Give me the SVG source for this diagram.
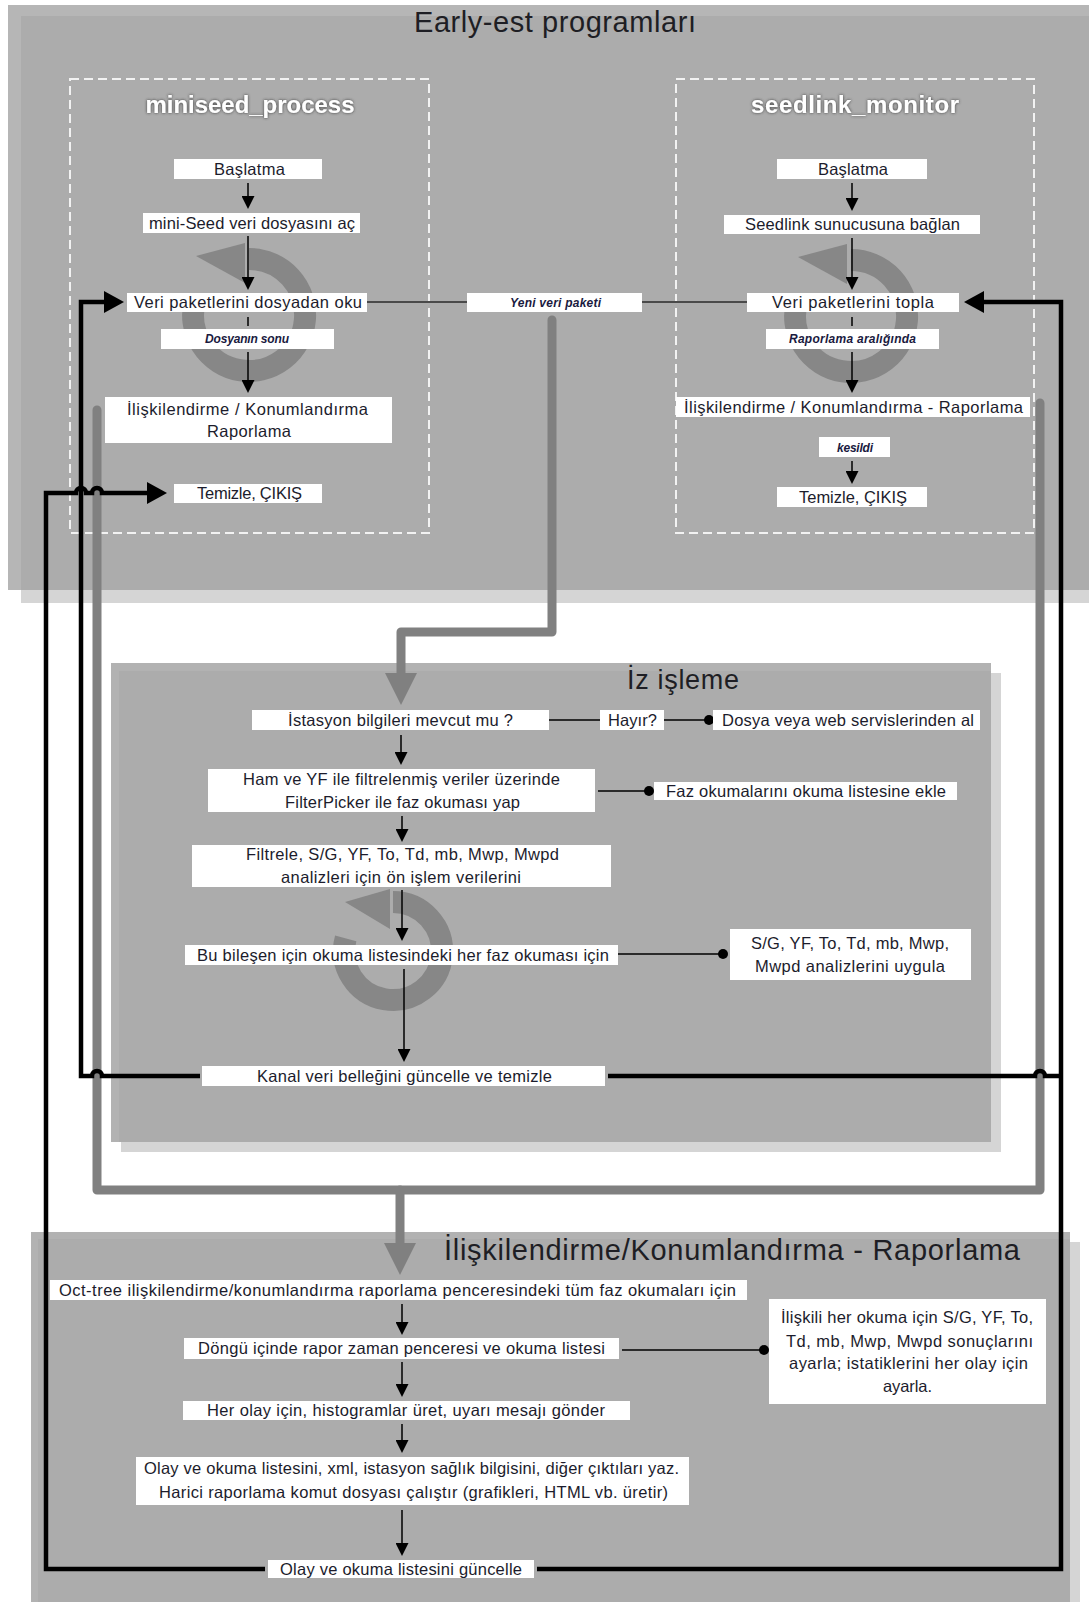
<svg xmlns="http://www.w3.org/2000/svg" width="1092" height="1602" viewBox="0 0 1092 1602">
<style>
.t{font-family:"Liberation Sans",Arial,sans-serif;font-size:16.5px;fill:#1c1c2c;text-anchor:middle}
.s{font-size:12px;font-weight:bold;font-style:italic;fill:#1a1a40}
.ttl{font-family:"Liberation Sans",Arial,sans-serif;fill:#1e1e24;text-anchor:middle}
.sub{font-family:"Liberation Sans",Arial,sans-serif;font-size:24px;font-weight:bold;fill:#ffffff;text-anchor:middle}
.n{fill:#ffffff}
.thin{stroke:#000;stroke-width:1.5;fill:none}
.thick{stroke:#000;stroke-width:4.5;fill:none}
.gray{stroke:#808080;stroke-width:9;fill:none;stroke-linecap:round;stroke-linejoin:round}
.link{stroke:#4a4a4a;stroke-width:2;fill:none}
.dash{stroke:#f2f2f2;stroke-width:2;fill:none;stroke-dasharray:9 5}
.ring{fill:none;stroke:#808080;stroke-width:22;opacity:0.85}
.rhead{fill:#808080;opacity:0.85}
</style>
<defs>
<marker id="ah" viewBox="0 0 10 10" refX="0" refY="5" markerWidth="13" markerHeight="13" markerUnits="userSpaceOnUse" orient="auto" preserveAspectRatio="none"><path d="M0,0L10,5L0,10z" fill="#000"/></marker>
<marker id="ahb" viewBox="0 0 10 10" refX="0" refY="5" markerWidth="20" markerHeight="22" markerUnits="userSpaceOnUse" orient="auto" preserveAspectRatio="none"><path d="M0,0L10,5L0,10z" fill="#000"/></marker>
<marker id="ahg" viewBox="0 0 10 10" refX="0" refY="5" markerWidth="32" markerHeight="32" markerUnits="userSpaceOnUse" orient="auto" preserveAspectRatio="none"><path d="M0,0L10,5L0,10z" fill="#808080"/></marker>
<filter id="glow" x="-10%" y="-40%" width="120%" height="180%"><feGaussianBlur in="SourceAlpha" stdDeviation="1.6" result="b"/><feFlood flood-color="#333333"/><feComposite in2="b" operator="in"/><feMerge><feMergeNode/><feMergeNode in="SourceGraphic"/></feMerge></filter>
</defs>

<!-- panels -->
<g id="panel-top">
<rect x="8" y="5" width="1081" height="585" fill="#b6b6b6"/>
<rect x="21" y="16" width="1068" height="574" fill="#acacac"/>
<rect x="21" y="590" width="1068" height="13" fill="#d5d5d5"/>
<text class="ttl" x="555" y="32" font-size="29" textLength="282">Early-est programları</text>
</g>
<g id="panel-iz">
<rect x="121" y="673" width="880" height="479" fill="#d5d5d5"/>
<rect x="111" y="663" width="880" height="479" fill="#b2b2b2"/>
<rect x="119" y="671" width="872" height="471" fill="#acacac"/>
<text class="ttl" x="683" y="689" font-size="27" textLength="112">İz işleme</text>
</g>
<g id="panel-bottom">
<rect x="41" y="1242" width="1039" height="360" fill="#d5d5d5"/>
<rect x="31" y="1232" width="1039" height="370" fill="#b2b2b2"/>
<rect x="38" y="1239" width="1032" height="363" fill="#acacac"/>
<text class="ttl" x="732" y="1260" font-size="29" textLength="576">İlişkilendirme/Konumlandırma - Raporlama</text>
</g>

<g id="group-miniseed">
<rect class="dash" x="70" y="79" width="359" height="454"/>
<text class="sub" x="250" y="113" textLength="209" filter="url(#glow)">miniseed_process</text>
</g>
<g id="group-seedlink">
<rect class="dash" x="676" y="79" width="358" height="454"/>
<text class="sub" x="855" y="113" textLength="208" filter="url(#glow)">seedlink_monitor</text>
</g>

<!-- loop symbols -->
<g id="loops">
<path class="ring" d="M249,259 A56,56 0 1 1 195,300.5"/>
<polygon class="rhead" points="245,243 245,283 196,256"/>
<path class="ring" d="M851,260 A56,56 0 1 1 797,301.5"/>
<polygon class="rhead" points="847,244 847,284 798,257"/>
<path class="ring" d="M393,902 A49,49 0 1 1 345.7,938.3"/>
<polygon class="rhead" points="390,889 390,929 345,902"/>
</g>

<!-- connectors -->
<g id="connectors">
<path class="link" d="M358,302 H467"/>
<path class="link" d="M642,302 H747"/>
<path class="gray" d="M552,320 V632 H401 V673" marker-end="url(#ahg)"/>
<path class="gray" d="M97,410 V1190 H1040 V403"/>
<path class="gray" d="M400,1190 V1243" marker-end="url(#ahg)"/>

<path class="thick" d="M200,1076 H102 a5,5 0 0 0 -10,0 H81 V302 H104" marker-end="url(#ahb)"/>
<path class="thick" d="M265,1569 H46 V493 H76 a5,5 0 0 1 10,0 H92 a5,5 0 0 1 10,0 H147" marker-end="url(#ahb)"/>
<path class="thick" d="M608,1076 H1035 a5,5 0 0 1 10,0 H1061"/>
<path class="thick" d="M537,1569 H1061 V302 H984" marker-end="url(#ahb)"/>

<path class="thin" d="M248,183 V196" marker-end="url(#ah)"/>
<path class="thin" d="M248,236 V277" marker-end="url(#ah)"/>
<path class="thin" d="M248,317 V326"/>
<path class="thin" d="M248,352 V380" marker-end="url(#ah)"/>
<path class="thin" d="M852,183 V198" marker-end="url(#ah)"/>
<path class="thin" d="M852,238 V277" marker-end="url(#ah)"/>
<path class="thin" d="M852,317 V326"/>
<path class="thin" d="M852,352 V380" marker-end="url(#ah)"/>
<path class="thin" d="M852,461 V471" marker-end="url(#ah)"/>

<path class="thin" d="M401,735 V752" marker-end="url(#ah)"/>
<path class="thin" d="M402,816 V829" marker-end="url(#ah)"/>
<path class="thin" d="M402,890 V928" marker-end="url(#ah)"/>
<path class="thin" d="M404,969 V1049" marker-end="url(#ah)"/>
<path class="thin" d="M549,720 H600"/>
<path class="thin" d="M664,720 H709"/>
<circle cx="709" cy="720" r="5"/>
<path class="thin" d="M598,791 H649"/>
<circle cx="649" cy="791" r="5"/>
<path class="thin" d="M618,954 H723"/>
<circle cx="723" cy="954" r="5"/>

<path class="thin" d="M402,1304 V1322" marker-end="url(#ah)"/>
<path class="thin" d="M402,1362 V1384" marker-end="url(#ah)"/>
<path class="thin" d="M402,1424 V1440" marker-end="url(#ah)"/>
<path class="thin" d="M402,1510 V1543" marker-end="url(#ah)"/>
<path class="thin" d="M622,1350 H764"/>
<circle cx="764" cy="1350" r="5"/>
</g>

<!-- miniseed_process nodes -->
<g id="n-ms-baslatma"><rect class="n" x="174" y="159" width="148" height="20"/><text class="t" x="249.5" y="175" textLength="71">Başlatma</text></g>
<g id="n-ms-ac"><rect class="n" x="143" y="213" width="217" height="20"/><text class="t" x="252" y="228.5" textLength="206">mini-Seed veri dosyasını aç</text></g>
<g id="n-ms-oku"><rect class="n" x="127" y="293" width="240" height="19"/><text class="t" x="248" y="308" textLength="228">Veri paketlerini dosyadan oku</text></g>
<g id="n-ms-sonu"><rect class="n" x="161" y="329" width="173" height="20"/><text class="t s" x="247" y="343" textLength="84">Dosyanın sonu</text></g>
<g id="n-ms-iliskilendirme"><rect class="n" x="105" y="397" width="287" height="46"/><text class="t" x="247.5" y="415" textLength="241">İlişkilendirme / Konumlandırma</text><text class="t" x="249" y="437" textLength="84">Raporlama</text></g>
<g id="n-ms-temizle"><rect class="n" x="174" y="484" width="148" height="19"/><text class="t" x="249.5" y="499" textLength="105">Temizle, ÇIKIŞ</text></g>

<g id="n-yeni"><rect class="n" x="467" y="293" width="175" height="19"/><text class="t s" x="555.5" y="307" textLength="91">Yeni veri paketi</text></g>

<!-- seedlink_monitor nodes -->
<g id="n-sl-baslatma"><rect class="n" x="777" y="159" width="150" height="20"/><text class="t" x="853" y="175" textLength="70">Başlatma</text></g>
<g id="n-sl-baglan"><rect class="n" x="724" y="215" width="256" height="19"/><text class="t" x="852.5" y="230" textLength="215">Seedlink sunucusuna bağlan</text></g>
<g id="n-sl-topla"><rect class="n" x="747" y="293" width="212" height="19"/><text class="t" x="853" y="308" textLength="162">Veri paketlerini topla</text></g>
<g id="n-sl-araliginda"><rect class="n" x="766" y="329" width="173" height="20"/><text class="t s" x="852.5" y="343" textLength="127">Raporlama aralığında</text></g>
<g id="n-sl-iliskilendirme"><rect class="n" x="676" y="397" width="354" height="20"/><text class="t" x="853.5" y="412.5" textLength="339">İlişkilendirme / Konumlandırma - Raporlama</text></g>
<g id="n-sl-kesildi"><rect class="n" x="819" y="437" width="71" height="20"/><text class="t s" x="855" y="451.5" textLength="36">kesildi</text></g>
<g id="n-sl-temizle"><rect class="n" x="777" y="487" width="150" height="20"/><text class="t" x="853" y="502.5" textLength="108">Temizle, ÇIKIŞ</text></g>

<!-- İz işleme nodes -->
<g id="n-istasyon"><rect class="n" x="252" y="710" width="297" height="20"/><text class="t" x="400.5" y="726" textLength="225">İstasyon bilgileri mevcut mu ?</text></g>
<g id="n-hayir"><rect class="n" x="600" y="710" width="64" height="20"/><text class="t" x="632.5" y="726" textLength="49">Hayır?</text></g>
<g id="n-dosya"><rect class="n" x="713" y="710" width="267" height="20"/><text class="t" x="848" y="726" textLength="252">Dosya veya web servislerinden al</text></g>
<g id="n-ham"><rect class="n" x="208" y="769" width="387" height="43"/><text class="t" x="401.5" y="785" textLength="317">Ham ve YF ile filtrelenmiş veriler üzerinde</text><text class="t" x="402.5" y="808" textLength="235">FilterPicker ile faz okuması yap</text></g>
<g id="n-faz"><rect class="n" x="654" y="782" width="303" height="18"/><text class="t" x="806" y="796.5" textLength="280">Faz okumalarını okuma listesine ekle</text></g>
<g id="n-filtrele"><rect class="n" x="192" y="845" width="419" height="42"/><text class="t" x="402.5" y="860" textLength="313">Filtrele, S/G, YF, To, Td, mb, Mwp, Mwpd</text><text class="t" x="401" y="883" textLength="240">analizleri için ön işlem verilerini</text></g>
<g id="n-bilesen"><rect class="n" x="185" y="945" width="433" height="20"/><text class="t" x="403" y="960.5" textLength="412">Bu bileşen için okuma listesindeki her faz okuması için</text></g>
<g id="n-analiz"><rect class="n" x="730" y="929" width="241" height="51"/><text class="t" x="850" y="949" textLength="198">S/G, YF, To, Td, mb, Mwp,</text><text class="t" x="850" y="972" textLength="190">Mwpd analizlerini uygula</text></g>
<g id="n-kanal"><rect class="n" x="202" y="1066" width="403" height="20"/><text class="t" x="404.5" y="1081.5" textLength="295">Kanal veri belleğini güncelle ve temizle</text></g>

<!-- İlişkilendirme/Konumlandırma - Raporlama nodes -->
<g id="n-octree"><rect class="n" x="50" y="1280" width="697" height="20"/><text class="t" x="397.5" y="1295.5" textLength="677">Oct-tree ilişkilendirme/konumlandırma raporlama penceresindeki tüm faz okumaları için</text></g>
<g id="n-dongu"><rect class="n" x="184" y="1338" width="435" height="21"/><text class="t" x="401.5" y="1354" textLength="407">Döngü içinde rapor zaman penceresi ve okuma listesi</text></g>
<g id="n-ayarla"><rect class="n" x="769" y="1299" width="277" height="105"/><text class="t" x="907" y="1323" textLength="252">İlişkili her okuma için S/G, YF, To,</text><text class="t" x="909.5" y="1347" textLength="247">Td, mb, Mwp, Mwpd sonuçlarını</text><text class="t" x="908.5" y="1369" textLength="239">ayarla; istatiklerini her olay için</text><text class="t" x="907.5" y="1392" textLength="49">ayarla.</text></g>
<g id="n-herolay"><rect class="n" x="183" y="1401" width="447" height="19"/><text class="t" x="406" y="1416" textLength="398">Her olay için, histogramlar üret, uyarı mesajı gönder</text></g>
<g id="n-yaz"><rect class="n" x="136" y="1457" width="553" height="48"/><text class="t" x="411.5" y="1474" textLength="535">Olay ve okuma listesini, xml, istasyon sağlık bilgisini, diğer çıktıları yaz.</text><text class="t" x="413.5" y="1498" textLength="509">Harici raporlama komut dosyası çalıştır (grafikleri, HTML vb. üretir)</text></g>
<g id="n-guncelle"><rect class="n" x="268" y="1560" width="266" height="18"/><text class="t" x="401" y="1574.5" textLength="242">Olay ve okuma listesini güncelle</text></g>
</svg>
